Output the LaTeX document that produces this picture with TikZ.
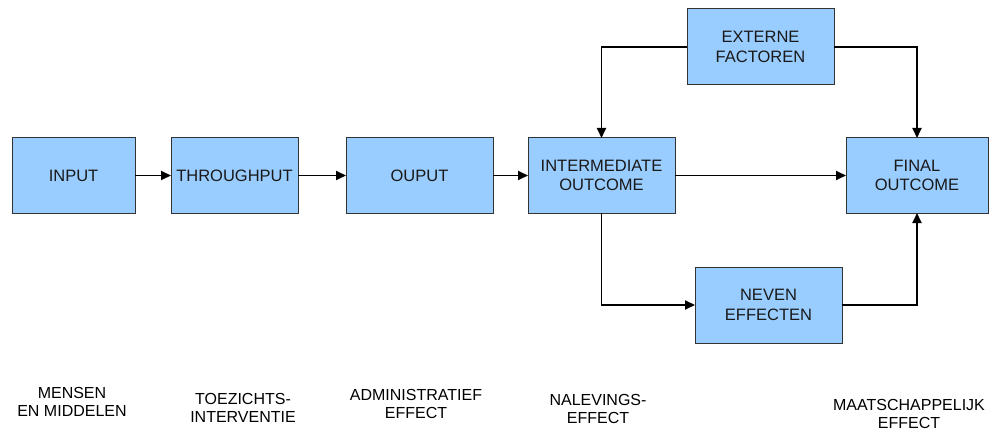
\documentclass[tikz,border=0pt]{standalone}
\usepackage{fontspec}
\setmainfont{Liberation Sans}
\usetikzlibrary{arrows.meta, positioning}
\definecolor{boxblue}{HTML}{99CCFF}
\definecolor{boxline}{HTML}{333333}

\begin{document}
\begin{tikzpicture}[x=1pt, y=1pt, semithick,
        font=\fontsize{16.5}{19.5}\selectfont]
        \tikzset{blok/.style={draw=boxline, line width=1pt, fill=boxblue, text=black!90,
                minimum height=75pt, inner sep=0pt, outer sep=0pt, align=center},
            pijl/.style={-{Triangle[length=10pt,width=9pt]}, line width=1.8pt},
            onder/.style={align=center, inner sep=0pt, font=\fontsize{16}{18.5}\selectfont}}
        \useasboundingbox (0,0) rectangle (989,432);
        % hoofdketen
        \node[blok, minimum width=123pt] (input) at (73.5,256.5) {INPUT};
        \node[blok, minimum width=127pt] (through) [right=36pt of input] {THROUGHPUT};
        \node[blok, minimum width=147pt] (output) [right=48pt of through] {OUPUT};
        \node[blok, minimum width=147pt] (inter) [right=35pt of output] {INTERMEDIATE\\OUTCOME};
        \node[blok, minimum width=142pt] (final) [right=171pt of inter] {FINAL\\OUTCOME};
        \node[blok, minimum width=147pt, minimum height=76pt] (extern) at (760.5,385) {EXTERNE\\FACTOREN};
        \node[blok, minimum width=147pt, minimum height=76pt] (neven) at (768.5,127) {NEVEN\\EFFECTEN};
        % onderschriften
        \node[onder] (mensen) at (72,30) {MENSEN\\EN MIDDELEN};
        \node[onder] (toezicht) at (243,24) {TOEZICHTS-\\INTERVENTIE};
        \node[onder] (admin) at (416,28) {ADMINISTRATIEF\\EFFECT};
        \node[onder] (naleving) at (598,23) {NALEVINGS-\\EFFECT};
        \node[onder] (maatsch) at (909,18) {MAATSCHAPPELIJK\\EFFECT};
        % pijlen
        \draw[pijl] (input) -- (through);
        \draw[pijl] (through) -- (output);
        \draw[pijl] (output) -- (inter);
        \draw[pijl] (inter) -- (final);
        \draw[pijl] (extern.west) -| (inter.north);
        \draw[pijl] (extern.east) -| (final.north);
        \draw[pijl] (inter.south) |- (neven.west);
        \draw[pijl] (neven.east) -| (final.south);
\end{tikzpicture}
\end{document}
